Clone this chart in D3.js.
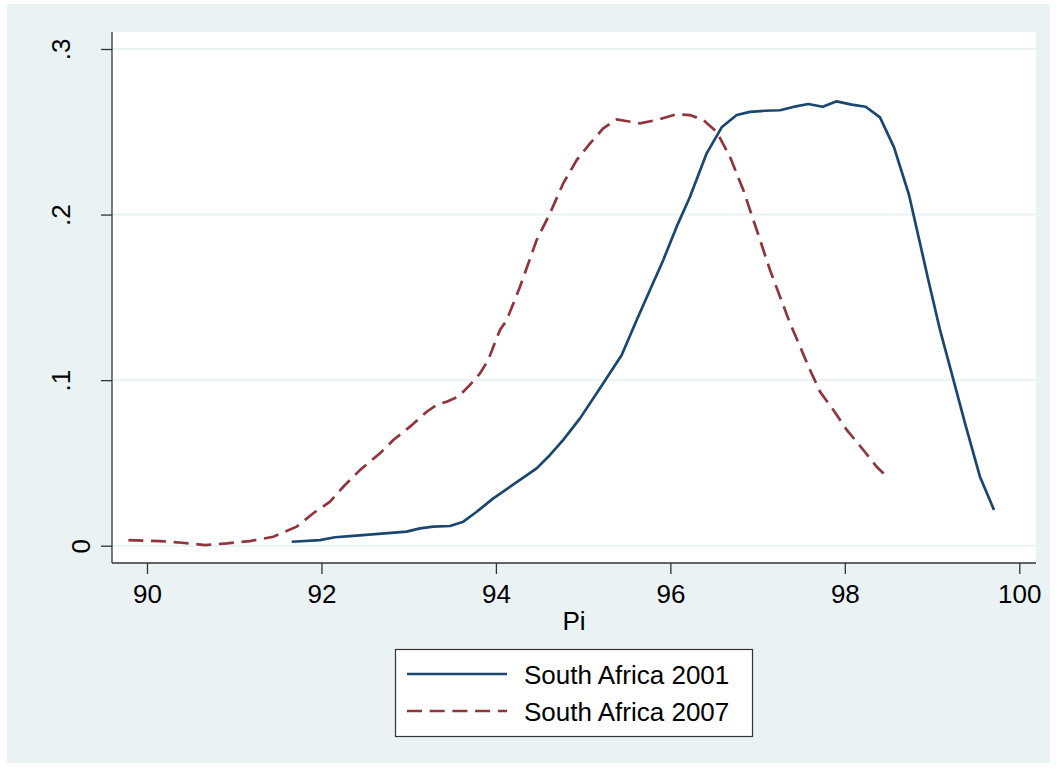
<!DOCTYPE html>
<html>
<head>
<meta charset="utf-8">
<script src="https://cdn.jsdelivr.net/npm/d3@7"></script>
<style>
  html, body { margin: 0; padding: 0; background: #ffffff; }
  svg { display: block; }
  text { font-family: "Liberation Sans", Arial, sans-serif; fill: #000; }
</style>
</head>
<body>
<svg id="chart" width="1057" height="769"></svg>
<script>
// ---------- data ----------
const seriesNames = ["South Africa 2001", "South Africa 2007"];

const pi2001 = [91.659, 91.983, 92.155, 92.365, 92.977, 93.130, 93.282, 93.474, 93.626, 93.780,
  93.970, 94.276, 94.467, 94.620, 94.772, 94.964, 95.193, 95.442, 95.614, 95.766,
  95.919, 96.072, 96.225, 96.416, 96.588, 96.760, 96.913, 97.085, 97.257, 97.409,
  97.581, 97.746, 97.907, 98.079, 98.239, 98.403, 98.564, 98.736, 98.957, 99.091,
  99.225, 99.378, 99.549, 99.710];
const dens2001 = [0.0024, 0.0034, 0.0051, 0.0059, 0.0085, 0.0105, 0.0115, 0.0119, 0.0145, 0.0205,
  0.0286, 0.0397, 0.0467, 0.0548, 0.0639, 0.0769, 0.0951, 0.1152, 0.1363, 0.1544,
  0.1726, 0.1927, 0.2108, 0.2370, 0.2527, 0.2601, 0.2620, 0.2627, 0.2630, 0.2650,
  0.2668, 0.2651, 0.2684, 0.2664, 0.2651, 0.2587, 0.2406, 0.2118, 0.1605, 0.1303,
  0.1041, 0.0739, 0.0417, 0.0216];

const pi2007 = [89.786, 90.149, 90.398, 90.665, 90.914, 91.181, 91.448, 91.716, 91.906, 92.098,
  92.250, 92.442, 92.671, 92.824, 93.015, 93.207, 93.321, 93.436, 93.569, 93.703,
  93.817, 93.913, 93.970, 94.047, 94.124, 94.276, 94.467, 94.620, 94.772, 94.926,
  95.079, 95.231, 95.385, 95.652, 95.843, 96.072, 96.225, 96.377, 96.531, 96.683,
  96.836, 96.990, 97.142, 97.257, 97.372, 97.487, 97.601, 97.716, 97.868, 98.022,
  98.212, 98.365, 98.461];
const dens2007 = [0.0034, 0.0028, 0.0018, 0.0004, 0.0014, 0.0028, 0.0054, 0.0115, 0.0196, 0.0266,
  0.0356, 0.0457, 0.0558, 0.0638, 0.0719, 0.0809, 0.0850, 0.0870, 0.0900, 0.0971,
  0.1041, 0.1122, 0.1202, 0.1303, 0.1363, 0.1564, 0.1846, 0.2008, 0.2189, 0.2329,
  0.2430, 0.2521, 0.2575, 0.2551, 0.2571, 0.2606, 0.2601, 0.2571, 0.2500, 0.2349,
  0.2148, 0.1907, 0.1665, 0.1504, 0.1343, 0.1202, 0.1061, 0.0930, 0.0820, 0.0699,
  0.0578, 0.0477, 0.0427];

const xTickValues = [90, 92, 94, 96, 98, 100];
const xTickLabels = ["90", "92", "94", "96", "98", "100"];
const yTickValues = [0, 0.1, 0.2, 0.3];
const yTickLabels = ["0", ".1", ".2", ".3"];
const xTitle = "Pi";

// ---------- layout ----------
const plot = { left: 112, right: 1036, top: 32, bottom: 563 };
const colors = ["#1a476f", "#90353b"];
const bg = "#eaf2f3";
const fs = 26;

const svg = d3.select("#chart");

svg.append("rect").attr("x", 7).attr("y", 4).attr("width", 1043).attr("height", 759).attr("fill", bg);
svg.append("rect").attr("x", plot.left).attr("y", plot.top)
  .attr("width", plot.right - plot.left).attr("height", plot.bottom - plot.top).attr("fill", "#ffffff");

const x = d3.scaleLinear().domain([90, 100]).range([147, 1019.3]);
const y = d3.scaleLinear().domain([0, 0.3]).range([545.7, 49]);

// gridlines
svg.append("g").selectAll("line").data(yTickValues).join("line")
  .attr("x1", plot.left).attr("x2", plot.right)
  .attr("y1", d => y(d)).attr("y2", d => y(d))
  .attr("stroke", bg).attr("stroke-width", 2);

// x axis
const xAxis = d3.axisBottom(x).tickValues(xTickValues)
  .tickFormat((d, i) => xTickLabels[i]).tickSize(11).tickPadding(11);
const gx = svg.append("g").attr("transform", `translate(0,${plot.bottom})`).call(xAxis);
gx.select(".domain").remove();
gx.selectAll(".tick line").attr("stroke", "#333").attr("stroke-width", 1.3);
gx.selectAll(".tick text").attr("font-size", fs).attr("fill", "#000")
  .attr("font-family", "Liberation Sans, Arial, sans-serif");

// y axis
const yAxis = d3.axisLeft(y).tickValues(yTickValues)
  .tickFormat((d, i) => yTickLabels[i]).tickSize(11);
const gy = svg.append("g").attr("transform", `translate(${plot.left},0)`).call(yAxis);
gy.select(".domain").remove();
gy.selectAll(".tick line").attr("stroke", "#333").attr("stroke-width", 1.3);
gy.selectAll(".tick text")
  .attr("font-size", fs).attr("fill", "#000")
  .attr("font-family", "Liberation Sans, Arial, sans-serif")
  .attr("text-anchor", "middle")
  .attr("dy", null)
  .attr("x", null)
  .attr("transform", (d, i) => `translate(${yTickLabels[i].length === 1 ? -22 : -42},0) rotate(-90)`)
  .attr("y", 0);

// axis lines
svg.append("line").attr("x1", plot.left).attr("x2", plot.left).attr("y1", plot.top).attr("y2", plot.bottom)
  .attr("stroke", "#333").attr("stroke-width", 1.3);
svg.append("line").attr("x1", plot.left).attr("x2", plot.right).attr("y1", plot.bottom).attr("y2", plot.bottom)
  .attr("stroke", "#333").attr("stroke-width", 1.3);

// x title
svg.append("text").attr("x", (plot.left + plot.right) / 2).attr("y", 630)
  .attr("text-anchor", "middle").attr("font-size", fs).text(xTitle);

// lines
const line = d3.line().x(d => x(d[0])).y(d => y(d[1]));
const data2001 = pi2001.map((v, i) => [v, dens2001[i]]);
const data2007 = pi2007.map((v, i) => [v, dens2007[i]]);

svg.append("path").datum(data2001).attr("d", line)
  .attr("fill", "none").attr("stroke", colors[0]).attr("stroke-width", 2.7)
  .attr("stroke-linejoin", "round");
svg.append("path").datum(data2007).attr("d", line)
  .attr("fill", "none").attr("stroke", colors[1]).attr("stroke-width", 2.7)
  .attr("stroke-dasharray", "15,7.7");

// legend
const lg = svg.append("g");
lg.append("rect").attr("x", 395.5).attr("y", 649.5).attr("width", 357).attr("height", 87)
  .attr("fill", "#fff").attr("stroke", "#333").attr("stroke-width", 1.2);
const legendY = [674, 711];
seriesNames.forEach((name, i) => {
  lg.append("line").attr("x1", 407).attr("x2", 507).attr("y1", legendY[i]).attr("y2", legendY[i])
    .attr("stroke", colors[i]).attr("stroke-width", 2.7)
    .attr("stroke-dasharray", i === 1 ? "15,7.7" : null);
  lg.append("text").attr("x", 524).attr("y", legendY[i] + 10).attr("font-size", fs).text(name);
});
</script>
</body>
</html>
